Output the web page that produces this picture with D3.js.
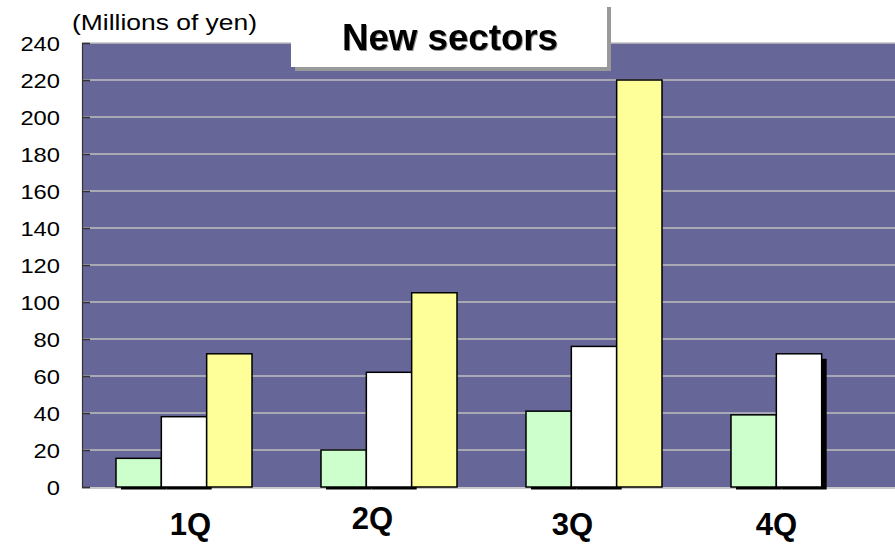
<!DOCTYPE html>
<html>
<head>
<meta charset="utf-8">
<script src="https://cdn.jsdelivr.net/npm/d3@7"></script>
<style>
  html, body { margin: 0; padding: 0; background: #ffffff; }
  svg { display: block; font-family: "Liberation Sans", Arial, sans-serif; }
</style>
</head>
<body>
<svg id="chart" width="895" height="555"></svg>
<script>
// Quarterly figures for the new sectors, in millions of yen
const quarters = ["1Q", "2Q", "3Q", "4Q"];
const seriesKeys = ["s1", "s2", "s3"];
const s1Values = [15.5, 20, 41, 39];
const s2Values = [38, 62, 76, 72];
const s3Values = [72, 105, 220, null];
const yTicks = [0, 20, 40, 60, 80, 100, 120, 140, 160, 180, 200, 220, 240];
const titleText = "New sectors";
const unitText = "(Millions of yen)";

const seriesFill = { s1: "#CCFFCC", s2: "#FFFFFF", s3: "#FFFF99" };
const seriesShadow = { s1: true, s2: true, s3: false };
const valuesByKey = { s1: s1Values, s2: s2Values, s3: s3Values };

const W = 895, H = 555;
const plot = { left: 82, top: 43, bottom: 487, band: 205 };

const svg = d3.select("#chart");

const x0 = d3.scaleBand()
  .domain(quarters)
  .range([plot.left, plot.left + plot.band * quarters.length])
  .paddingInner(0).paddingOuter(0);

const x1 = d3.scaleBand()
  .domain(seriesKeys)
  .range([34, 34 + 136])
  .paddingInner(0);

const y = d3.scaleLinear().domain([0, 240]).range([plot.bottom, plot.top]);

// plot background
svg.append("rect")
  .attr("x", plot.left).attr("y", plot.top)
  .attr("width", x0.range()[1] - plot.left)
  .attr("height", plot.bottom - plot.top)
  .attr("fill", "#666699");

// horizontal gridlines
svg.append("g").selectAll("line")
  .data(yTicks.filter(d => d > 0))
  .join("line")
  .attr("x1", plot.left).attr("x2", W)
  .attr("y1", d => y(d)).attr("y2", d => y(d))
  .attr("stroke", "#c0c0c0").attr("stroke-width", 1.5);

// bottom edge of the plot area
svg.append("line")
  .attr("x1", plot.left).attr("x2", W)
  .attr("y1", plot.bottom + 1).attr("y2", plot.bottom + 1)
  .attr("stroke", "#c8c8c8").attr("stroke-width", 2);

// rows of bar records
const rows = [];
quarters.forEach((q, i) => {
  seriesKeys.forEach(k => {
    const v = valuesByKey[k][i];
    if (v != null) rows.push({ q, k, v });
  });
});

// drop shadows, clipped just below the baseline
svg.append("clipPath").attr("id", "shadowClip")
  .append("rect").attr("x", 0).attr("y", 0).attr("width", W).attr("height", plot.bottom + 2.5);

svg.append("g").attr("clip-path", "url(#shadowClip)")
  .selectAll("rect")
  .data(rows.filter(d => seriesShadow[d.k]))
  .join("rect")
  .attr("x", d => x0(d.q) + x1(d.k) + 5)
  .attr("y", d => y(d.v) + 5)
  .attr("width", x1.bandwidth())
  .attr("height", d => plot.bottom - y(d.v))
  .attr("fill", "#000000");

// bars
svg.append("g")
  .selectAll("rect")
  .data(rows)
  .join("rect")
  .attr("x", d => x0(d.q) + x1(d.k))
  .attr("y", d => y(d.v))
  .attr("width", x1.bandwidth())
  .attr("height", d => plot.bottom - y(d.v))
  .attr("fill", d => seriesFill[d.k])
  .attr("stroke", "#000000")
  .attr("stroke-width", 1.5);

// value axis
const yAxis = svg.append("g")
  .attr("transform", `translate(${plot.left},0)`)
  .call(d3.axisLeft(y).tickValues(yTicks).tickSize(-8).tickPadding(22).tickFormat(d3.format("d")));
yAxis.select(".domain").attr("stroke", "#333333").attr("stroke-width", 1.2);
yAxis.selectAll(".tick line").attr("stroke", "#333333").attr("stroke-width", 1.5);
yAxis.selectAll(".tick text")
  .attr("fill", "#000000")
  .style("font-size", "21px")
  .style("font-family", "'Liberation Sans', Arial, sans-serif")
  .attr("x", null)
  .attr("dy", "0.36em")
  .attr("transform", "translate(-22,0) scale(1.13,1)");

// unit label
svg.append("text")
  .attr("x", 72).attr("y", 30)
  .attr("font-size", 22)
  .attr("textLength", 185).attr("lengthAdjust", "spacingAndGlyphs")
  .text(unitText);

// title box with its shadow
svg.append("rect")
  .attr("x", 295).attr("y", 7).attr("width", 316).attr("height", 64)
  .attr("fill", "#999999");
svg.append("rect")
  .attr("x", 291).attr("y", -2).attr("width", 316).attr("height", 69)
  .attr("fill", "#ffffff");
svg.append("text")
  .attr("x", 450).attr("y", 50)
  .attr("text-anchor", "middle")
  .attr("font-size", 37).attr("font-weight", "bold")
  .attr("textLength", 216).attr("lengthAdjust", "spacingAndGlyphs")
  .style("filter", "drop-shadow(1px 1px 0.6px rgba(0,0,0,0.45))")
  .text(titleText);

// category labels
const labelNudge = { "1Q": [6, 0], "2Q": [-17, -6], "3Q": [-22, 0], "4Q": [-23, 0] };
svg.append("g").selectAll("text")
  .data(quarters)
  .join("text")
  .attr("x", d => x0(d) + x0.bandwidth() / 2 + labelNudge[d][0])
  .attr("y", d => 535 + labelNudge[d][1])
  .attr("text-anchor", "middle")
  .attr("font-size", 31).attr("font-weight", "bold")
  .text(d => d);
</script>
</body>
</html>
